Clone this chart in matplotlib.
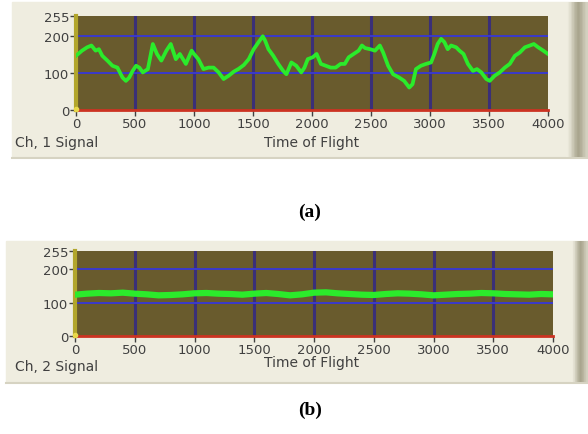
import matplotlib
matplotlib.use("Agg")
import matplotlib.pyplot as plt
import numpy as np
from matplotlib.patches import Rectangle

# Ch. 1 signal
ch1_time = [0, 51, 94, 131, 166, 194, 223, 266, 309, 351, 394, 423, 451, 480, 509, 537, 566, 609,
            651, 686, 723, 766, 803, 846, 880, 931, 980, 1000, 1037, 1080, 1123, 1166, 1209, 1251,
            1294, 1337, 1380, 1422, 1464, 1506, 1547, 1583, 1603, 1631, 1672, 1714, 1756, 1783,
            1825, 1867, 1909, 1936, 1964, 2006, 2039, 2075, 2117, 2159, 2200, 2242, 2278, 2311,
            2353, 2395, 2423, 2450, 2492, 2534, 2575, 2603, 2645, 2687, 2739, 2781, 2824, 2852,
            2881, 2923, 2966, 3009, 3037, 3065, 3094, 3122, 3150, 3179, 3222, 3250, 3284, 3321,
            3364, 3398, 3435, 3477, 3506, 3548, 3591, 3634, 3676, 3719, 3761, 3804, 3847, 3880,
            3917, 3960, 4000]
ch1_signal = [147, 161, 170, 175, 161, 165, 147, 134, 120, 115, 88, 79, 88, 106, 120, 115, 102, 111,
              179, 152, 134, 161, 179, 138, 152, 125, 161, 152, 138, 111, 115, 115, 102, 84,
              93, 104, 112, 122, 138, 165, 184, 200, 188, 165, 147, 125, 106, 97,
              129, 120, 102, 115, 138, 143, 152, 125, 120, 115, 115, 125, 125, 143,
              152, 161, 175, 168, 165, 161, 175, 156, 120, 97, 88, 79, 61, 70,
              111, 120, 125, 129, 152, 179, 193, 184, 165, 175, 170, 161, 152, 125,
              106, 111, 102, 84, 79, 93, 102, 115, 125, 147, 156, 170, 175, 179,
              170, 161, 152]

# Ch. 2 signal, sampled every 100
ch2_time = list(range(0, 4001, 100))
ch2_signal = [124, 127, 129, 128, 130, 127, 125, 122, 123, 125, 128, 129, 127, 126, 124, 127, 129,
              126, 122, 125, 130, 131, 128, 126, 124, 123, 126, 128, 127, 125, 122, 124, 126,
              127, 129, 128, 126, 125, 124, 126, 125]

x_ticks = [0, 500, 1000, 1500, 2000, 2500, 3000, 3500, 4000]
y_ticks = [0, 100, 200, 255]

W, H = 588, 435
PANEL = "#EFEDE0"
PLOT_BG = "#695B2D"
GREEN = "#2BEB2B"
TXT = "#404040"

fig = plt.figure(figsize=(W / 100, H / 100), dpi=100)
fig.patch.set_facecolor("white")

bg = fig.add_axes([0, 0, 1, 1])
bg.set_xlim(0, W)
bg.set_ylim(H, 0)
bg.axis("off")


def panel(x0, y0, y1, shade_x):
    bg.add_patch(Rectangle((x0, y0), W - x0, y1 - y0, color=PANEL, zorder=0))
    bg.plot([x0, W], [y1 + 1, y1 + 1], color="#D6D3C2", lw=1.5, zorder=1)
    # rounded 3d edge on the right
    grad = np.array([[0.0, 0.2, 0.5, 0.8, 1.0, 0.85, 0.6, 0.4]])
    bg.imshow(grad, cmap=matplotlib.colors.LinearSegmentedColormap.from_list(
        "edge", [PANEL, "#A9A58E"]), aspect="auto",
        extent=(shade_x, W, y1, y0), zorder=1)


panel(12, 3, 158, 566)
panel(6, 242, 383, 571)


def scope(rect, t, v, lw, label, title_y, xlabel_y):
    ax = fig.add_axes(rect)
    ax.set_facecolor(PLOT_BG)
    ax.plot(t, v, color=GREEN, lw=lw, zorder=3, solid_joinstyle="round")
    ax.set_xlim(0, 4000)
    ax.set_ylim(0, 255)
    for xv in x_ticks[1:-1]:
        ax.axvline(xv, color="#3A2F78", lw=2.2, zorder=1)
    for yv in [100, 200]:
        ax.axhline(yv, color="#3A3ACC", lw=1.4, zorder=1)
    for s in ["top", "right"]:
        ax.spines[s].set_visible(False)
    ax.spines["left"].set_color("#B2A62C")
    ax.spines["left"].set_linewidth(3)
    ax.spines["bottom"].set_color("#CC3322")
    ax.spines["bottom"].set_linewidth(2)
    ax.set_xticks(x_ticks)
    ax.set_yticks(y_ticks)
    ax.tick_params(axis="both", colors=TXT, labelsize=9.5, length=4, width=1)
    ax.tick_params(axis="x", pad=1)
    ax.tick_params(axis="y", pad=1)
    ax.plot([0], [2], "o", color="#E8D84A", ms=3, clip_on=False, zorder=4)
    bg.text(15, title_y, label, fontsize=10, color=TXT, va="center", ha="left")
    bg.text(312, xlabel_y, "Time of Flight", fontsize=10, color=TXT, va="center", ha="center")
    return ax


scope([76 / W, 1 - 111 / H, (548 - 76) / W, (111 - 17) / H],
      ch1_time, ch1_signal, 2.7, "Ch, 1 Signal", 143, 143)
scope([75 / W, 1 - 337 / H, (553 - 75) / W, (337 - 252) / H],
      ch2_time, ch2_signal, 4.5, "Ch, 2 Signal", 367, 363)

bg.text(310, 212, "(a)", fontsize=14, fontweight="bold", family="Liberation Serif",
        ha="center", va="center")
bg.text(310, 410, "(b)", fontsize=14, fontweight="bold", family="Liberation Serif",
        ha="center", va="center")

fig.savefig("out.png", dpi=100)
